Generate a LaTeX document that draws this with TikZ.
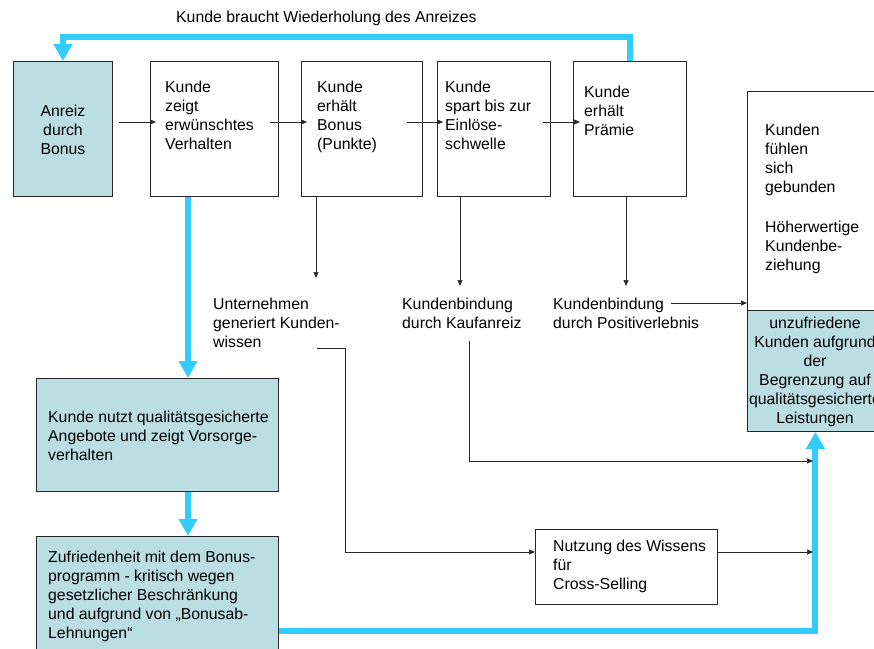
\documentclass[tikz,border=0pt]{standalone}
\usepackage{fontspec}
\setmainfont{Liberation Sans}
\usetikzlibrary{arrows.meta}
\definecolor{boxfill}{RGB}{187,222,227}
\definecolor{cyanline}{RGB}{51,204,255}
\begin{document}
\begin{tikzpicture}[x=1pt,y=-1pt,
  box/.style={draw=black!85, line width=0.8pt, anchor=north west, inner sep=0},
  fbox/.style={box, fill=boxfill},
  txt/.style={font=\fontsize{15.8}{19}\selectfont, align=left, inner sep=0, anchor=north west},
  ctxt/.style={txt, align=center, anchor=north},
  bluearrow/.style={draw=cyanline, line width=6pt, -{Triangle[width=18pt,length=17pt]}},
  blueline/.style={draw=cyanline, line width=6pt},
  thin/.style={draw=black!85, line width=0.7pt},
  thinarrow/.style={thin, -{Triangle[width=5pt,length=6pt]}}
]
\useasboundingbox (0,0) rectangle (874,648);
\clip (0,0) rectangle (874,648);

% top row boxes
\node[fbox, minimum width=99pt, minimum height=135pt] (anreiz) at (13,61) {};
\node[box, minimum width=128pt, minimum height=135pt] (b2) at (150,61) {};
\node[box, minimum width=121pt, minimum height=135pt] (b3) at (301,61) {};
\node[box, minimum width=113pt, minimum height=135pt] (b4) at (437,61) {};
\node[box, minimum width=113pt, minimum height=135pt] (b5) at (573,61) {};

% right boxes
\node[box, minimum width=136pt, minimum height=219pt] (gebunden) at (747,91) {};
\node[fbox, minimum width=136pt, minimum height=121pt] (unz) at (747,310) {};

% left column boxes
\node[fbox, minimum width=242pt, minimum height=113pt] (nutzt) at (36,378) {};
\node[fbox, minimum width=242pt, minimum height=130pt] (zuf) at (36,536) {};

% Nutzung box
\node[box, minimum width=182pt, minimum height=75pt] (nutzung) at (535,529) {};

% texts
\node[txt] (titel) at (176,9.4) {\strut Kunde braucht Wiederholung des Anreizes};
\node[ctxt] (tanreiz) at (63,103.4) {\strut Anreiz\\durch\\Bonus};
\node[txt] (tb2) at (165,79.4) {\strut Kunde\\zeigt\\erwünschtes\\Verhalten};
\node[txt] (tb3) at (317,79.4) {\strut Kunde\\erhält\\Bonus\\(Punkte)};
\node[txt] (tb4) at (445,79.4) {\strut Kunde\\spart bis zur\\Einlöse-\\schwelle};
\node[txt] (tb5) at (584,84.4) {\strut Kunde\\erhält\\Prämie};
\node[txt] (tgeb) at (765,122.4) {\strut Kunden\\fühlen\\sich\\gebunden\\[21pt]Höherwertige\\Kundenbe-\\ziehung};
\node[ctxt] (tunz) at (815,315.4) {\strut unzufriedene\\Kunden aufgrund\\der\\Begrenzung auf\\qualitätsgesicherte\\Leistungen};
\node[txt] (tnutzt) at (48,409.4) {\strut Kunde nutzt qualitätsgesicherte\\Angebote und zeigt Vorsorge-\\verhalten};
\node[txt] (tzuf) at (48,549.4) {\strut Zufriedenheit mit dem Bonus-\\programm - kritisch wegen\\gesetzlicher Beschränkung\\und aufgrund von „Bonusab-\\Lehnungen“};
\node[txt] (tunt) at (213,296.4) {\strut Unternehmen\\generiert Kunden-\\wissen};
\node[txt] (tkauf) at (402,296.4) {\strut Kundenbindung\\durch Kaufanreiz};
\node[txt] (tpos) at (553,296.4) {\strut Kundenbindung\\durch Positiverlebnis};
\node[txt] (tnutzung) at (553,538.4) {\strut Nutzung des Wissens\\für\\Cross-Selling};

% coordinates
\coordinate (toprow) at (0,37);
\coordinate (xb2) at (188,0);
\coordinate (bottomy) at (0,631);
\coordinate (a1s) at (119,122); \coordinate (a1e) at (156,122);
\coordinate (a2s) at (270,122); \coordinate (a2e) at (307,122);
\coordinate (a3s) at (407,122); \coordinate (a3e) at (443,122);
\coordinate (a4s) at (543,122); \coordinate (a4e) at (580,122);
\coordinate (d3) at (316,0); \coordinate (d3e) at (316,278);
\coordinate (d4) at (460,0); \coordinate (d4e) at (460,286);
\coordinate (d5) at (626,0); \coordinate (d5e) at (626,286);
\coordinate (untstart) at (317,348);
\coordinate (untx) at (345,348);
\coordinate (nutzy) at (0,552);
\coordinate (kaufstart) at (469,341);
\coordinate (kaufy) at (0,461);
\coordinate (endx) at (813,0);
\coordinate (posstart) at (671,303);

% blue connectors
\draw[bluearrow] (b5.north) -- (b5.north |- toprow) -| (anreiz.north);
\draw[bluearrow] (xb2 |- b2.south) -- (xb2 |- nutzt.north);
\draw[bluearrow] (xb2 |- nutzt.south) -- (xb2 |- zuf.north);
\draw[bluearrow] (zuf.east |- bottomy) -| (unz.south);

% thin arrows in top row
\draw[thinarrow] (a1s) -- (a1e);
\draw[thinarrow] (a2s) -- (a2e);
\draw[thinarrow] (a3s) -- (a3e);
\draw[thinarrow] (a4s) -- (a4e);

% down arrows
\draw[thinarrow] (d3 |- b3.south) -- (d3e);
\draw[thinarrow] (d4 |- b4.south) -- (d4e);
\draw[thinarrow] (d5 |- b5.south) -- (d5e);

% lower connectors
\draw[thinarrow] (untstart) -- (untx) |- (nutzung.west |- nutzy);
\draw[thinarrow] (kaufstart) |- (endx |- kaufy);
\draw[thinarrow] (nutzung.east |- nutzy) -- (endx |- nutzy);
\draw[thinarrow] (posstart) -- (gebunden.west |- posstart);
\end{tikzpicture}
\end{document}
